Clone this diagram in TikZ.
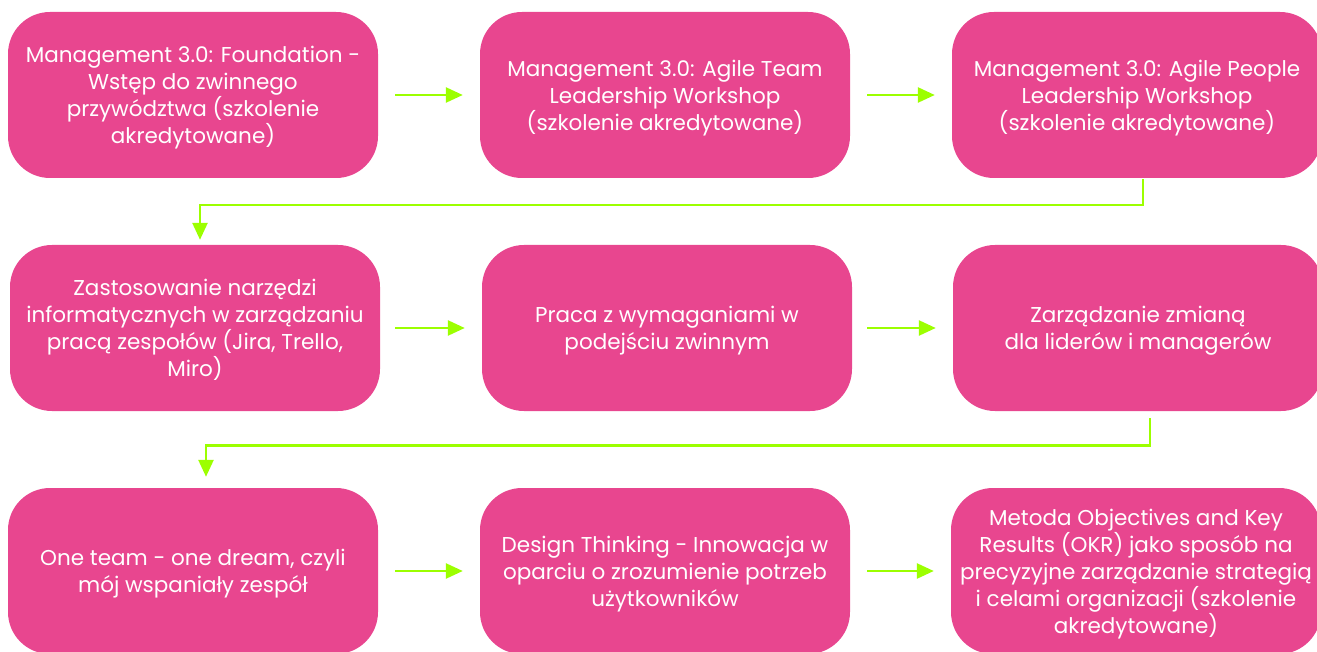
\documentclass[tikz,border=0pt]{standalone}
\usepackage{fontspec}
\setmainfont{Poppins}
\usepackage{tikz}
\usetikzlibrary{positioning, arrows.meta}
\definecolor{boxpink}{HTML}{E8468F}
\definecolor{linkgreen}{HTML}{9CFF00}

\begin{document}
\begin{tikzpicture}[x=1pt, y=-1pt,
    box/.style={fill=boxpink, rounded corners=42pt, minimum width=370pt, minimum height=166pt,
        text=white, align=center, font=\fontsize{21.5}{27}\selectfont, inner sep=0pt,
        text depth=-9pt},
    link/.style={draw=linkgreen, line width=2.6pt, -{Triangle[length=17pt, width=15pt]}}]
    \useasboundingbox (0,0) rectangle (1317,652);   % page size
    % row 1
    \node [box] (found) at (193,95) {Management 3.0: Foundation -\\Wstęp do zwinnego\\przywództwa (szkolenie\\akredytowane)};
    \node [box] (team) at (665,95) {Management 3.0: Agile Team\\Leadership Workshop\\(szkolenie akredytowane)};
    \node [box] (people) at (1137,95) {Management 3.0: Agile People\\Leadership Workshop\\(szkolenie akredytowane)};
    % row 2
    \node [box] (tools) at (195,328) {Zastosowanie narzędzi\\informatycznych w zarządzaniu\\pracą zespołów (Jira, Trello,\\Miro)};
    \node [box] (reqs) at (667,328) {Praca z wymaganiami w\\podejściu zwinnym};
    \node [box] (change) at (1138,328) {Zarządzanie zmianą\\dla liderów i managerów};
    % row 3
    \node [box] (dream) at (193,571) {One team - one dream, czyli\\mój wspaniały zespół};
    \node [box] (design) at (665,571) {Design Thinking - Innowacja w\\oparciu o zrozumienie potrzeb\\użytkowników};
    \node [box] (okr) at (1136,571) {Metoda Objectives and Key\\Results (OKR) jako sposób na\\precyzyjne zarządzanie strategią\\i celami organizacji (szkolenie\\akredytowane)};
    % arrows in rows
    \draw [link, shorten <=17pt, shorten >=17pt] (found.east) -- (team.west);
    \draw [link, shorten <=17pt, shorten >=17pt] (team.east) -- (people.west);
    \draw [link, shorten <=15pt, shorten >=17pt] (tools.east) -- (reqs.west);
    \draw [link, shorten <=15pt, shorten >=17pt] (reqs.east) -- (change.west);
    \draw [link, shorten <=17pt, shorten >=17pt] (dream.east) -- (design.west);
    \draw [link, shorten <=17pt, shorten >=17pt] (design.east) -- (okr.west);
    % arrows between rows
    \draw [link, shorten <=1pt, shorten >=5pt] ([xshift=6pt]people.south) -- ++(0,27) -| ([xshift=5pt]tools.north);
    \draw [link, shorten <=7pt, shorten >=11pt] ([xshift=12pt]change.south) -- ++(0,34) -| ([xshift=13pt]dream.north);
\end{tikzpicture}
\end{document}
